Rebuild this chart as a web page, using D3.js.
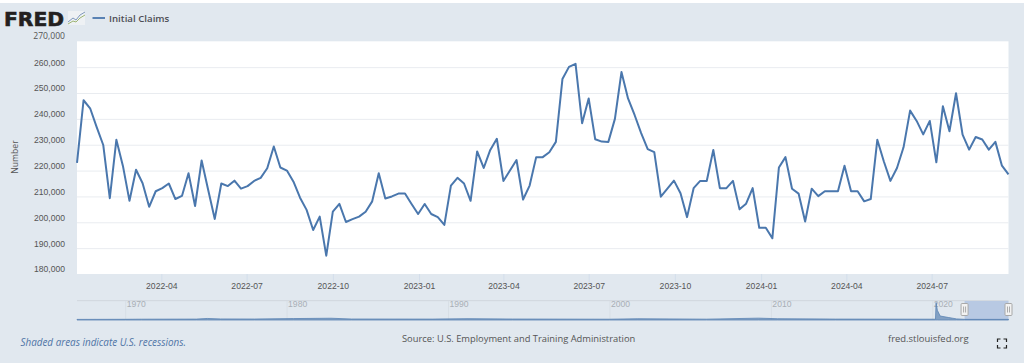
<!DOCTYPE html>
<html>
<head>
<meta charset="utf-8">
<title>Initial Claims</title>
<script src="https://cdn.jsdelivr.net/npm/d3@7"></script>
<style>
  html, body { margin: 0; padding: 0; background: #fff; }
  svg { display: block; font-family: "Open Sans", sans-serif; }
  .axis path { display: none; }
  .y-axis line { stroke: #e9ecf0; }
  .y-axis text, .x-axis text { fill: #555; font-size: 8.6px; }
  .x-axis line { stroke: #d3deeb; }
  .nav-axis line { stroke: #d8dfe6; }
  .nav-axis text { fill: #a9afb6; font-size: 8.6px; }
</style>
</head>
<body>
<div class="canvas"></div>
<script>
// weekly initial claims, week ending saturday
const startWeek = "2022-01-01";
const claims = [
  223000,247200,244100,236800,229900,209300,231900,221800,208300,220300,
  215100,206000,212000,213200,215000,209000,210200,219000,206300,223900,
  212500,201300,215000,214000,216100,213000,214000,216000,217200,220900,
  229300,221200,220000,215700,209500,204800,197000,202200,187100,204100,
  207100,200100,201200,202200,204100,208100,219000,209200,210000,211100,
  211100,207100,203200,207100,203200,202000,199000,214200,217200,215000,
  208300,227400,221000,228000,232300,216000,220000,224100,208800,214200,
  225200,225200,227100,231100,255400,260100,261300,238300,247900,232100,
  231200,231100,240000,258100,247900,241500,234500,228300,227100,209900,
  213000,216100,211200,202000,213200,216000,216000,228000,213200,213200,
  216000,205000,207200,213200,197900,197900,193800,221200,225200,213000,
  211100,200300,213000,210100,212000,212000,212000,221900,212000,212000,
  208100,209000,231900,223500,216000,221000,229000,243200,239200,234000,
  239200,223200,244900,235200,249900,233900,228100,233000,232000,228100,
  231100,221900,218500
];

const yTicks = [180000,190000,200000,210000,220000,230000,240000,250000,260000,270000];
const xTicks = ["2022-04-01","2022-07-01","2022-10-01","2023-01-01","2023-04-01","2023-07-01","2023-10-01","2024-01-01","2024-04-01","2024-07-01"];

// navigator, whole history (rough outline)
const navDates = ["1967-01-07","1970-01-03","1971-01-02","1974-06-01","1975-02-01","1975-12-01","1978-01-07","1980-06-01","1982-10-02","1984-01-07","1989-01-07","1991-03-30","1994-01-01","2000-01-01","2001-10-06","2006-01-07","2009-03-28","2010-06-05","2014-01-04","2020-03-14","2020-03-28","2020-04-25","2020-06-27","2021-01-09","2021-07-03","2022-01-01","2024-09-21"];
const navValues = [210000,250000,290000,320000,540000,370000,340000,500000,620000,350000,320000,470000,340000,280000,440000,300000,650000,450000,320000,282000,6137000,3400000,1400000,850000,390000,223000,218500];

const navYears = ["1970-01-01","1980-01-01","1990-01-01","2000-01-01","2010-01-01","2020-01-01"];

const width = 1024, height = 363;
const plot = {left: 77, right: 1008.5, top: 41.3, bottom: 274};
const nav = {top: 301, bottom: 320};

const svg = d3.select('.canvas').append('svg')
  .attr('width', width)
  .attr('height', height);

svg.append('rect')
  .attr('y', 3)
  .attr('width', width)
  .attr('height', height - 3)
  .attr('fill', '#e1e8ef');

svg.append('rect')
  .attr('x', plot.left)
  .attr('y', plot.top)
  .attr('width', plot.right - plot.left)
  .attr('height', plot.bottom - plot.top)
  .attr('fill', '#fff');

const parse = d3.utcParse('%Y-%m-%d');
const weekDates = claims.map((d, i) => d3.utcDay.offset(parse(startWeek), i * 7));

const x = d3.scaleUtc()
  .domain([weekDates[0], weekDates[weekDates.length - 1]])
  .range([plot.left, plot.right]);

const y = d3.scaleLinear()
  .domain([180000, 270000])
  .range([plot.bottom, plot.top]);

// y axis, gridlines run over the plot and labels sit above the line
const yAxis = svg.append('g')
  .attr('class', 'axis y-axis')
  .attr('transform', `translate(${plot.left},0)`)
  .call(d3.axisLeft(y)
    .tickValues(yTicks.slice(0, -1))
    .tickSize(-(plot.right - plot.left))
    .tickPadding(12)
    .tickFormat(d3.format(',')));
yAxis.selectAll('text').attr('dy', '-0.25em');
yAxis.selectAll('.tick').filter(d => d === 180000).select('line').remove();

svg.append('text')
  .attr('x', 65)
  .attr('y', y(270000) - 5)
  .attr('dy', '0.32em')
  .attr('text-anchor', 'end')
  .attr('font-size', 8.6)
  .attr('fill', '#555')
  .text(d3.format(',')(yTicks[yTicks.length - 1]));

const xAxis = svg.append('g')
  .attr('class', 'axis x-axis')
  .attr('transform', `translate(0,${plot.bottom})`)
  .call(d3.axisBottom(x)
    .tickValues(xTicks.map(parse))
    .tickSize(8)
    .tickPadding(1)
    .tickFormat(d3.utcFormat('%Y-%m')));

const line = d3.line()
  .x((d, i) => x(weekDates[i]))
  .y(d => y(d));

svg.append('path')
  .datum(claims)
  .attr('d', line)
  .attr('fill', 'none')
  .attr('stroke', '#4a77ad')
  .attr('stroke-width', 2)
  .attr('stroke-linejoin', 'round');

svg.append('text')
  .attr('transform', 'translate(18,157) rotate(-90)')
  .attr('text-anchor', 'middle')
  .attr('font-size', 8.6)
  .attr('fill', '#555')
  .text('Number');

// navigator
const navX = d3.scaleUtc()
  .domain([parse(navDates[0]), parse(navDates[navDates.length - 1])])
  .range([plot.left, plot.right]);

const navY = d3.scaleLinear()
  .domain([0, 6137000])
  .range([nav.bottom, nav.top + 1.5]);

svg.append('rect')
  .attr('x', plot.left)
  .attr('y', nav.top - 1)
  .attr('width', plot.right - plot.left)
  .attr('height', 1.2)
  .attr('fill', '#d3d9e0');

const navAxis = svg.append('g')
  .attr('class', 'axis nav-axis')
  .attr('transform', `translate(0,${nav.bottom})`)
  .call(d3.axisBottom(navX)
    .tickValues(navYears.map(parse))
    .tickSize(-(nav.bottom - nav.top))
    .tickFormat(d3.utcFormat('%Y')));
navAxis.selectAll('text')
  .attr('text-anchor', 'start')
  .attr('x', 1)
  .attr('y', -15.5)
  .attr('dy', '0.32em');

const navData = navDates.map((d, i) => [parse(d), navValues[i]]);

// selected range behind the series
svg.append('rect')
  .attr('x', navX(weekDates[0]))
  .attr('y', nav.top)
  .attr('width', navX(weekDates[weekDates.length - 1]) - navX(weekDates[0]))
  .attr('height', nav.bottom - nav.top)
  .attr('fill', '#b8c9e3');

svg.append('path')
  .datum(navData)
  .attr('d', d3.area().x(d => navX(d[0])).y0(nav.bottom).y1(d => navY(d[1])))
  .attr('fill', '#4572a7')
  .attr('fill-opacity', 0.6)
  .attr('stroke', '#5c84b4')
  .attr('stroke-width', 0.8);

[weekDates[0], weekDates[weekDates.length - 1]].forEach(d => {
  const h = svg.append('g').attr('transform', `translate(${navX(d)},${nav.top})`);
  h.append('rect')
    .attr('x', -3.5).attr('y', 2.5).attr('width', 7).attr('height', 12).attr('rx', 1)
    .attr('fill', '#f2f2f2').attr('stroke', '#a8a8a8');
  h.selectAll('line').data([-1, 1]).join('line')
    .attr('x1', d => d).attr('x2', d => d)
    .attr('y1', 5.5).attr('y2', 11.5)
    .attr('stroke', '#999').attr('stroke-width', 0.8);
});

// header: logo and legend
svg.append('text')
  .attr('x', 4)
  .attr('y', 26)
  .attr('font-family', '"DejaVu Sans", sans-serif')
  .attr('font-weight', 'bold')
  .attr('font-size', 19.5)
  .attr('textLength', 60)
  .attr('lengthAdjust', 'spacingAndGlyphs')
  .attr('fill', '#231f20')
  .attr('stroke', '#231f20')
  .attr('stroke-width', 0.6)
  .text('FRED');

const logo = svg.append('g').attr('transform', 'translate(68,11)');
logo.append('rect').attr('width', 17).attr('height', 14).attr('fill', '#eef1f4');
logo.append('path').attr('d', 'M0 11 L5 7 L8 9 L12 4 L17 1')
  .attr('fill', 'none').attr('stroke', '#7f98bd').attr('stroke-width', 1);
logo.append('path').attr('d', 'M0 13 L5 10 L8 11 L12 7 L17 4')
  .attr('fill', 'none').attr('stroke', '#9db572').attr('stroke-width', 1);

svg.append('line')
  .attr('x1', 92.5).attr('x2', 105)
  .attr('y1', 18).attr('y2', 18)
  .attr('stroke', '#4a77ad')
  .attr('stroke-width', 1.8);

svg.append('text')
  .attr('x', 109)
  .attr('y', 22)
  .attr('font-size', 9.7)
  .attr('font-weight', 600)
  .attr('fill', '#4d4d55')
  .text('Initial Claims');

// footer
svg.append('text')
  .attr('x', 20.5)
  .attr('y', 345.5)
  .attr('font-size', 9.9)
  .attr('font-style', 'italic')
  .attr('fill', '#4f74a6')
  .text('Shaded areas indicate U.S. recessions.');

svg.append('text')
  .attr('x', 402)
  .attr('y', 342)
  .attr('font-size', 9.35)
  .attr('fill', '#555')
  .text('Source: U.S. Employment and Training Administration');

svg.append('text')
  .attr('x', 888)
  .attr('y', 342)
  .attr('font-size', 9.45)
  .attr('fill', '#555')
  .text('fred.stlouisfed.org');

// fullscreen icon corners
svg.append('path')
  .attr('d', 'M997.5 342 v-3 h3 M1003.5 339 h3 v3 M1006.5 345 v3 h-3 M1000.5 348 h-3 v-3')
  .attr('fill', 'none')
  .attr('stroke', '#222')
  .attr('stroke-width', 1.2);
</script>
</body>
</html>
